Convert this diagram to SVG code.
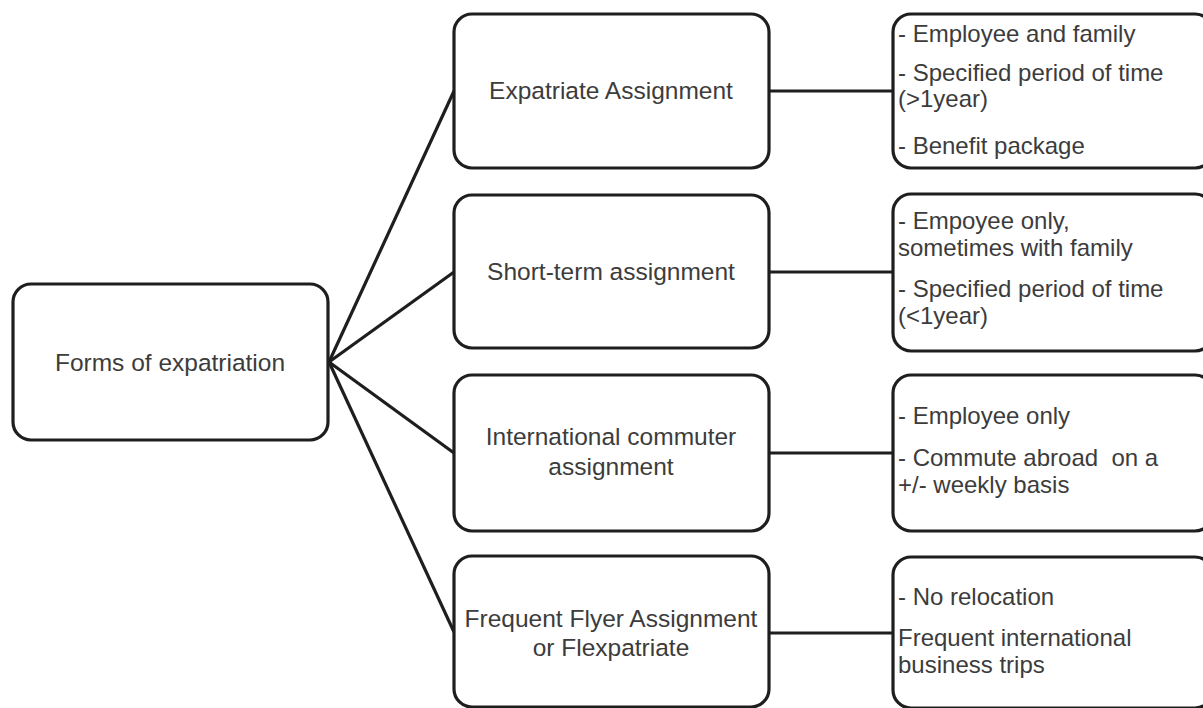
<svg xmlns="http://www.w3.org/2000/svg" width="1203" height="708" viewBox="0 0 1203 708">
<style>
.box{fill:#fff;stroke:#1e1e1e;stroke-width:3.2}
.ln{stroke:#1e1e1e;stroke-width:3.2;fill:none}
.t{font-family:"Liberation Sans",Arial,sans-serif;font-size:24.5px;fill:#3c3c3c}
.c{text-anchor:middle}
.r{font-size:24px;white-space:pre}
</style>
<rect width="1203" height="708" fill="#fff"/>
<g id="connectors">
<line class="ln" x1="329" y1="362" x2="454" y2="91"/>
<line class="ln" x1="329" y1="362" x2="454" y2="272"/>
<line class="ln" x1="329" y1="362" x2="454" y2="453"/>
<line class="ln" x1="329" y1="362" x2="454" y2="632"/>
<line class="ln" x1="769" y1="91" x2="893" y2="91"/>
<line class="ln" x1="769" y1="272" x2="893" y2="272"/>
<line class="ln" x1="769" y1="453" x2="893" y2="453"/>
<line class="ln" x1="769" y1="633" x2="893" y2="633"/>
</g>
<g id="root">
<rect class="box" x="13" y="284" width="315" height="156" rx="18"/>
<text class="t c" x="170" y="371">Forms of expatriation</text>
</g>
<g id="expatriate">
<rect class="box" x="454" y="14" width="315" height="154" rx="18"/>
<text class="t c" x="611" y="99">Expatriate Assignment</text>
</g>
<g id="shortterm">
<rect class="box" x="454" y="195" width="315" height="153" rx="18"/>
<text class="t c" x="611" y="280">Short-term assignment</text>
</g>
<g id="commuter">
<rect class="box" x="454" y="375" width="315" height="156" rx="18"/>
<text class="t c" x="611" y="445">International commuter</text>
<text class="t c" x="611" y="475">assignment</text>
</g>
<g id="flyer">
<rect class="box" x="454" y="556" width="315" height="151" rx="18"/>
<text class="t c" x="611" y="627">Frequent Flyer Assignment</text>
<text class="t c" x="611" y="656">or Flexpatriate</text>
</g>
<g id="detail1">
<rect class="box" x="893" y="14" width="320" height="154" rx="18"/>
<text class="t r" x="898" y="42">- Employee and family</text>
<text class="t r" x="898" y="81">- Specified period of time</text>
<text class="t r" x="898" y="107">(&gt;1year)</text>
<text class="t r" x="898" y="154">- Benefit package</text>
</g>
<g id="detail2">
<rect class="box" x="893" y="194" width="320" height="157" rx="18"/>
<text class="t r" x="898" y="229">- Empoyee only,</text>
<text class="t r" x="898" y="256">sometimes with family</text>
<text class="t r" x="898" y="297">- Specified period of time</text>
<text class="t r" x="898" y="324">(&lt;1year)</text>
</g>
<g id="detail3">
<rect class="box" x="893" y="375" width="320" height="156" rx="18"/>
<text class="t r" x="898" y="424">- Employee only</text>
<text class="t r" x="898" y="466">- Commute abroad  on a</text>
<text class="t r" x="898" y="493">+/- weekly basis</text>
</g>
<g id="detail4">
<rect class="box" x="893" y="557" width="320" height="151" rx="18"/>
<text class="t r" x="898" y="605">- No relocation</text>
<text class="t r" x="898" y="646">Frequent international</text>
<text class="t r" x="898" y="673">business trips</text>
</g>
</svg>
